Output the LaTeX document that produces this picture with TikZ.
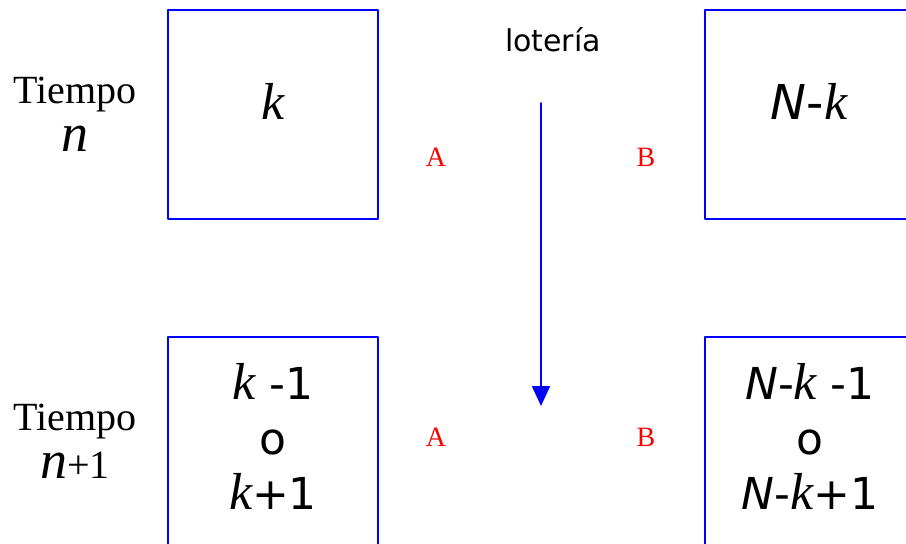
\documentclass[tikz,border=0pt]{standalone}
\usepackage{fontspec}
\setmainfont{Liberation Serif}
\newfontfamily\verd{DejaVu Sans}
\usetikzlibrary{arrows.meta}
\newcommand\kk{{\rmfamily\itshape\fontsize{26}{28}\selectfont k}}
\newcommand\nn{{\itshape\fontsize{27}{22}\selectfont n}}
\begin{document}
\begin{tikzpicture}[x=0.5pt,y=-0.5pt,line cap=round,line join=round,
  every node/.style={inner sep=1pt},
  caja/.style={draw=blue,line width=0.9pt,minimum width=105pt,minimum height=104.5pt,inner sep=0pt},
  cifra/.style={font=\verd\fontsize{22}{27.5}\selectfont,align=center},
  tiempo/.style={font=\fontsize{20}{22}\selectfont,align=center},
  jugador/.style={text=red,font=\fontsize{14}{16}\selectfont}]
  \clip (0,0) rectangle (906,543);
  \node[caja] (cajaA) at (273,114.5) {};
  \node[caja] (cajaB) at (810,114.5) {};
  \node[caja,cifra] (cajaA1) at (273,441.5) {};
  \node[caja,cifra] (cajaB1) at (810,441.5) {};
  \node[cifra] (kA1) at (273,436) {\kk{} -1\\o\\\kk+1};
  \node[cifra] (kB1) at (810,436) {{\itshape N}-\kk{} -1\\o\\{\itshape N}-\kk+1};
  \node[cifra] (k) at (273,101) {\kk};
  \node[cifra,font=\verd\fontsize{24}{28}\selectfont] (Nk) at (809,101) {{\itshape N}-\kk};
  \node[tiempo] (t0) at (75,114) {Tiempo\\[2pt]\nn};
  \node[tiempo] (t1) at (75,441) {Tiempo\\[2pt]\nn+1};
  \node[font=\verd\fontsize{15}{18}\selectfont] (loteria) at (553,40) {lotería};
  \node[jugador] (A0) at (436,157) {A};
  \node[jugador] (B0) at (646,157) {B};
  \node[jugador] (A1) at (436,437) {A};
  \node[jugador] (B1) at (646,437) {B};
  \coordinate (ini) at (541,103);
  \coordinate (fin) at (541,406);
  \draw[blue,line width=1pt,-{Triangle[width=9pt,length=10pt]}] (ini) -- (fin);
\end{tikzpicture}
\end{document}
